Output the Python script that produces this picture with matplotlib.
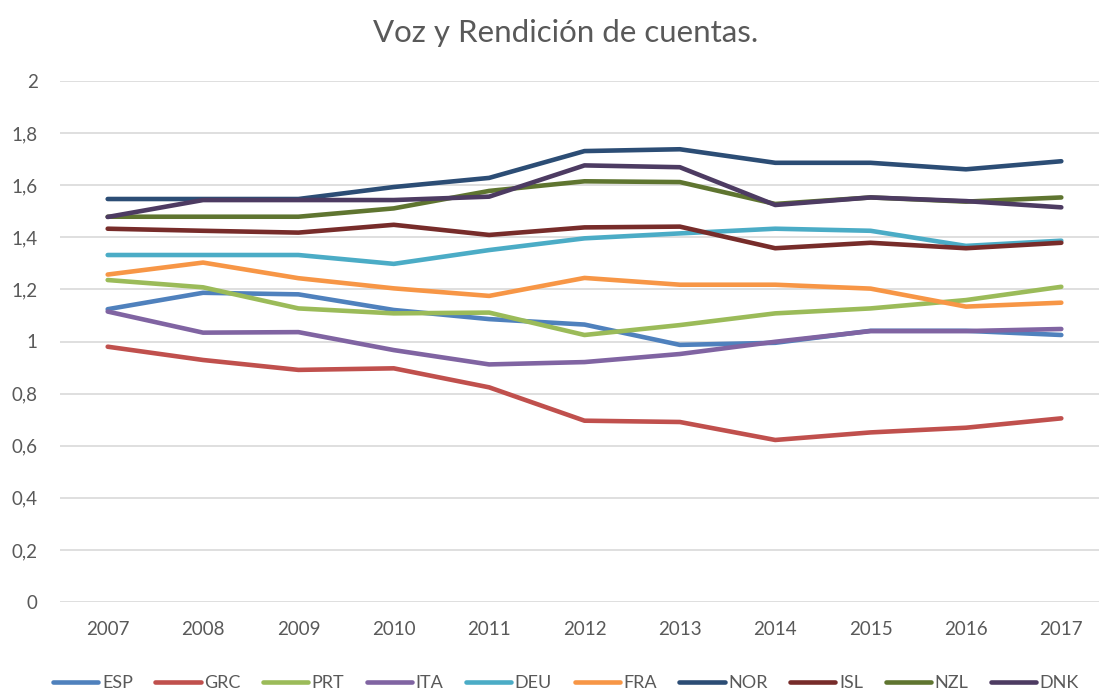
import matplotlib.pyplot as plt
import numpy as np

plt.rcParams['font.family'] = ['Lato', 'DejaVu Sans']

years = ['2007', '2008', '2009', '2010', '2011', '2012', '2013', '2014', '2015', '2016', '2017']

esp = [1.124, 1.187, 1.181, 1.121, 1.086, 1.065, 0.987, 0.995, 1.041, 1.041, 1.025]
grc = [0.980, 0.929, 0.891, 0.897, 0.824, 0.696, 0.691, 0.622, 0.651, 0.669, 0.705]
prt = [1.236, 1.208, 1.127, 1.108, 1.111, 1.025, 1.063, 1.108, 1.127, 1.159, 1.210]
ita = [1.115, 1.034, 1.036, 0.967, 0.912, 0.921, 0.952, 0.999, 1.040, 1.040, 1.048]
deu = [1.332, 1.332, 1.332, 1.298, 1.351, 1.396, 1.415, 1.433, 1.425, 1.367, 1.387]
fra = [1.257, 1.303, 1.243, 1.204, 1.175, 1.244, 1.218, 1.218, 1.203, 1.134, 1.149]
nor = [1.547, 1.547, 1.547, 1.593, 1.628, 1.731, 1.738, 1.686, 1.686, 1.661, 1.692]
isl = [1.433, 1.425, 1.418, 1.448, 1.409, 1.438, 1.441, 1.358, 1.379, 1.358, 1.379]
nzl = [1.479, 1.479, 1.479, 1.511, 1.578, 1.615, 1.612, 1.528, 1.553, 1.537, 1.553]
dnk = [1.478, 1.543, 1.543, 1.543, 1.556, 1.676, 1.669, 1.524, 1.553, 1.539, 1.515]

series = [('ESP', esp, '#4F81BD'), ('GRC', grc, '#C0504D'), ('PRT', prt, '#9BBB59'),
          ('ITA', ita, '#8064A2'), ('DEU', deu, '#4BACC6'), ('FRA', fra, '#F79646'),
          ('NOR', nor, '#2C4D75'), ('ISL', isl, '#772C2A'), ('NZL', nzl, '#5F7530'),
          ('DNK', dnk, '#4D3B62')]

fig = plt.figure(figsize=(10.99, 6.91), dpi=100)
ax = fig.add_axes([60 / 1099, 1 - 602 / 691, 1049 / 1099, 521 / 691])

x = np.arange(len(years))
for name, vals, col in series:
    ax.plot(x, vals, color=col, lw=3.3, label=name, solid_capstyle='round')

ax.set_xlim(-0.5, len(years) - 0.5)
ax.set_ylim(0, 2)
ax.set_yticks(np.arange(0, 2.01, 0.2))
ax.set_yticklabels(['0', '0,2', '0,4', '0,6', '0,8', '1', '1,2', '1,4', '1,6', '1,8', '2'])
ax.set_xticks(x)
ax.set_xticklabels(years)
ax.yaxis.grid(True, color='#D9D9D9', lw=1.2)
ax.set_axisbelow(True)
for s in ax.spines.values():
    s.set_visible(False)
ax.tick_params(length=0, colors='#595959', labelsize=13.5)
ax.tick_params(axis='y', pad=16)
ax.tick_params(axis='x', pad=14)

fig.text(0.515, 1 - 33 / 691, 'Voz y Rendición de cuentas.', ha='center', va='center',
         fontsize=22.5, color='#595959')

fig.legend(loc='center', bbox_to_anchor=(0.515, 1 - 683 / 691), ncol=10, frameon=False,
           fontsize=13, handlelength=2.5, columnspacing=1.25, handletextpad=0.2,
           labelcolor='#595959')

fig.savefig('out.png', dpi=100)
